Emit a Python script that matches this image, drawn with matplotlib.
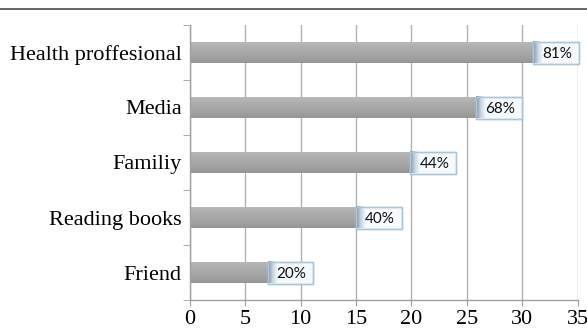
import matplotlib
matplotlib.use("Agg")
import matplotlib.pyplot as plt
import numpy as np
from matplotlib.patches import Rectangle
from matplotlib.lines import Line2D
from matplotlib.colors import LinearSegmentedColormap

categories = ["Health proffesional", "Media", "Familiy", "Reading books", "Friend"]
values = [31.0, 25.8, 19.9, 15.0, 7.0]
labels = ["81%", "68%", "44%", "40%", "20%"]
xticks = [0, 5, 10, 15, 20, 25, 30, 35]

W, H = 587, 331
fig = plt.figure(figsize=(W / 100, H / 100), dpi=100)
ax = fig.add_axes([190 / W, 1 - 300 / H, (577.5 - 190) / W, (300 - 25) / H])

y = np.arange(len(categories))
bh = 0.375
bars = ax.barh(y, values, height=bh, color="#a8a8a8", edgecolor="none", zorder=2)

bar_cmap = LinearSegmentedColormap.from_list("g", ["#b8b8b8", "#acacac", "#a4a4a4", "#969696"])
grad = np.linspace(0, 1, 64).reshape(-1, 1)
for yi, v, p in zip(y, values, bars.patches):
    im = ax.imshow(grad, extent=[0, v, yi + bh / 2, yi - bh / 2], cmap=bar_cmap,
                   aspect="auto", origin="upper", zorder=2.1, interpolation="bilinear")
    im.set_clip_path(p)

box_w = 4.15
box_h = 0.40
shade_cmap = LinearSegmentedColormap.from_list("s", ["#7f93a8", "#c9d6e2", "#f7fbfd"])
hgrad = np.linspace(0, 1, 64).reshape(1, -1)
for yi, v, lab in zip(y, values, labels):
    r = Rectangle((v, yi - box_h / 2), box_w, box_h, facecolor="#f6fafd",
                  edgecolor="#a9c6dd", linewidth=1.0, zorder=3, clip_on=False)
    ax.add_patch(r)
    s = ax.imshow(hgrad, extent=[v, v + 0.9, yi + box_h / 2, yi - box_h / 2], cmap=shade_cmap,
                  aspect="auto", origin="upper", zorder=3.1, interpolation="bilinear")
    s.set_clip_on(False)
    r2 = Rectangle((v, yi - box_h / 2), box_w, box_h, facecolor="none",
                   edgecolor="#a9c6dd", linewidth=1.0, zorder=3.2, clip_on=False)
    ax.add_patch(r2)
    ax.text(v + box_w / 2 + 0.1, yi + 0.02, lab, ha="center", va="center",
            fontsize=11, family="Lato", color="#111111", zorder=4)

ax.set_xlim(0, 35)
ax.set_ylim(len(categories) - 0.5, -0.5)
ax.set_xticks(xticks)
ax.set_xticklabels([str(t) for t in xticks], family="Liberation Serif", fontsize=16)
ax.set_yticks(y)
ax.set_yticklabels(categories, family="Liberation Serif", fontsize=16)
ax.set_yticks(np.arange(len(categories) + 1) - 0.5, minor=True)
ax.tick_params(axis="y", which="major", length=0, pad=6)
ax.tick_params(axis="y", which="minor", length=5, color="#a0a0a0", direction="out")
ax.tick_params(axis="x", which="major", length=4, color="#a0a0a0", pad=3, direction="out")
ax.grid(axis="x", color="#b2b2b2", linewidth=1.0, zorder=0)
ax.set_axisbelow(True)
for side in ["top", "right"]:
    ax.spines[side].set_visible(False)
for side in ["left", "bottom"]:
    ax.spines[side].set_color("#a0a0a0")
    ax.spines[side].set_linewidth(1.0)

fig.add_artist(Line2D([0, 1], [1 - 9 / H, 1 - 9 / H], transform=fig.transFigure,
                      color="#5a5a5a", linewidth=1.3))

fig.savefig("out.png", dpi=100)
